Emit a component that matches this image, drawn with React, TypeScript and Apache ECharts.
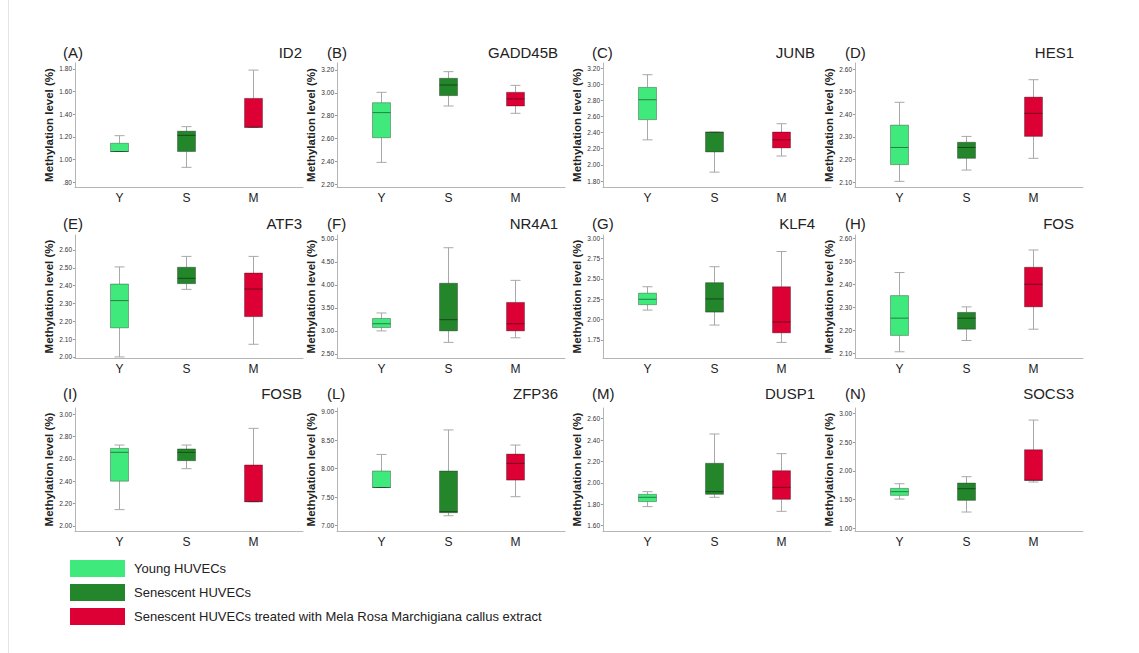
import React, { useEffect, useRef } from 'react';
import * as echarts from 'echarts';

const groups = ['Y', 'S', 'M'];
const groupNames = [
  'Young HUVECs',
  'Senescent HUVECs',
  'Senescent HUVECs treated with Mela Rosa Marchigiana callus extract',
];
const groupColors = ['#40e97b', '#23862b', '#dc0034'];
const panelLetters = ['(A)', '(B)', '(C)', '(D)', '(E)', '(F)', '(G)', '(H)', '(I)', '(L)', '(M)', '(N)'];
const genes = ['ID2', 'GADD45B', 'JUNB', 'HES1', 'ATF3', 'NR4A1', 'KLF4', 'FOS', 'FOSB', 'ZFP36', 'DUSP1', 'SOCS3'];

// [min, Q1, median, Q3, max] per gene
const youngStats = [
  [1.07, 1.07, 1.07, 1.143, 1.21],
  [2.39, 2.606, 2.826, 2.913, 3.004],
  [2.31, 2.56, 2.807, 2.96, 3.117],
  [2.103, 2.177, 2.253, 2.352, 2.453],
  [2.0, 2.163, 2.316, 2.409, 2.505],
  [3.0, 3.074, 3.156, 3.27, 3.39],
  [2.117, 2.183, 2.25, 2.325, 2.404],
  [2.107, 2.178, 2.253, 2.351, 2.451],
  [2.146, 2.4, 2.658, 2.693, 2.723],
  [7.67, 7.67, 7.67, 7.96, 8.25],
  [1.778, 1.825, 1.865, 1.893, 1.918],
  [1.507, 1.571, 1.636, 1.694, 1.775],
];
const senescentStats = [
  [0.93, 1.07, 1.213, 1.25, 1.29],
  [2.884, 2.975, 3.068, 3.127, 3.185],
  [1.91, 2.16, 2.405, 2.405, 2.405],
  [2.153, 2.205, 2.253, 2.276, 2.302],
  [2.379, 2.411, 2.441, 2.503, 2.564],
  [2.75, 3.0, 3.244, 4.037, 4.81],
  [1.933, 2.092, 2.254, 2.454, 2.65],
  [2.156, 2.205, 2.253, 2.278, 2.302],
  [2.512, 2.583, 2.658, 2.688, 2.723],
  [7.175, 7.228, 7.246, 7.96, 8.68],
  [1.865, 1.893, 1.918, 2.183, 2.457],
  [1.28, 1.484, 1.688, 1.787, 1.898],
];
const melaStats = [
  [1.284, 1.284, 1.284, 1.54, 1.79],
  [2.82, 2.884, 2.946, 3.004, 3.065],
  [2.11, 2.21, 2.31, 2.407, 2.51],
  [2.205, 2.302, 2.404, 2.476, 2.553],
  [2.071, 2.226, 2.381, 2.471, 2.564],
  [2.85, 3.0, 3.156, 3.62, 4.1],
  [1.72, 1.837, 1.971, 2.404, 2.837],
  [2.205, 2.302, 2.4, 2.474, 2.549],
  [2.217, 2.217, 2.217, 2.545, 2.872],
  [7.509, 7.8, 8.094, 8.257, 8.415],
  [1.734, 1.846, 1.958, 2.114, 2.273],
  [1.805, 1.834, 1.834, 2.37, 2.889],
];
const groupStats = [youngStats, senescentStats, melaStats];

const yMin = [0.756, 2.174, 1.726, 2.078, 1.994, 2.41, 1.528, 2.08, 1.955, 6.907, 1.55, 0.948];
const yMax = [1.853, 3.261, 3.262, 2.627, 2.684, 5.087, 3.04, 2.614, 3.054, 9.065, 2.7, 3.1];
const yTicks = [
  [0.8, 1.0, 1.2, 1.4, 1.6, 1.8],
  [2.2, 2.4, 2.6, 2.8, 3.0, 3.2],
  [1.8, 2.0, 2.2, 2.4, 2.6, 2.8, 3.0, 3.2],
  [2.1, 2.2, 2.3, 2.4, 2.5, 2.6],
  [2.0, 2.1, 2.2, 2.3, 2.4, 2.5, 2.6],
  [2.5, 3.0, 3.5, 4.0, 4.5, 5.0],
  [1.75, 2.0, 2.25, 2.5, 2.75, 3.0],
  [2.1, 2.2, 2.3, 2.4, 2.5, 2.6],
  [2.0, 2.2, 2.4, 2.6, 2.8, 3.0],
  [7.0, 7.5, 8.0, 8.5, 9.0],
  [1.6, 1.8, 2.0, 2.2, 2.4, 2.6],
  [1.0, 1.5, 2.0, 2.5, 3.0],
];

const FONT = '"Liberation Sans", Arial, Helvetica, sans-serif';
const colLeft = [75, 337, 603, 855];
const rowTop = [63, 235, 408];
const rowHeight = [124, 123, 123];
const gridWidth = 228;
const letterX = [63, 327, 592, 845];
const geneRightX = [302, 558, 815, 1074];
const titleY = [52, 223, 393];

const renderBox = (params: any, api: any) => {
  const x = api.value(0);
  const vals = [1, 2, 3, 4, 5].map((i) => api.value(i));
  const p = vals.map((v) => api.coord([x, v]));
  const cx = Math.round(p[0][0]) + 0.5;
  const halfW = 9;
  const capW = 5;
  const color = api.visual('color');
  const whisker = { stroke: '#a8a8a8', lineWidth: 1 };
  return {
    type: 'group',
    children: [
      { type: 'line', shape: { x1: cx, y1: p[4][1], x2: cx, y2: p[3][1] }, style: whisker },
      { type: 'line', shape: { x1: cx, y1: p[1][1], x2: cx, y2: p[0][1] }, style: whisker },
      { type: 'line', shape: { x1: cx - capW, y1: p[4][1], x2: cx + capW, y2: p[4][1] }, style: whisker },
      { type: 'line', shape: { x1: cx - capW, y1: p[0][1], x2: cx + capW, y2: p[0][1] }, style: whisker },
      {
        type: 'rect',
        shape: { x: cx - halfW, y: p[3][1], width: halfW * 2, height: p[1][1] - p[3][1] },
        style: { fill: color, stroke: 'rgba(0,0,0,0.3)', lineWidth: 1 },
      },
      {
        type: 'line',
        shape: { x1: cx - halfW, y1: p[2][1], x2: cx + halfW, y2: p[2][1] },
        style: { stroke: 'rgba(0,0,0,0.45)', lineWidth: 1 },
      },
    ],
  };
};

const fmt = (v: number) => {
  const s = v.toFixed(2);
  return s.startsWith('0') ? s.slice(1) : s;
};

export default function App() {
  const ref = useRef<HTMLDivElement>(null);
  useEffect(() => {
    if (!ref.current) return;
    const chart = echarts.init(ref.current, undefined, { renderer: 'svg' });
    const grids: any[] = [];
    const xAxes: any[] = [];
    const yAxes: any[] = [];
    const series: any[] = [];
    const graphics: any[] = [
      { type: 'line', shape: { x1: 8.5, y1: 0, x2: 8.5, y2: 653 }, style: { stroke: '#e4e4e4', lineWidth: 1 } },
    ];
    genes.forEach((gene, i) => {
      const r = Math.floor(i / 4);
      const c = i % 4;
      grids.push({ left: colLeft[c], top: rowTop[r], width: gridWidth, height: rowHeight[r] });
      xAxes.push({
        gridIndex: i,
        type: 'value',
        min: -0.664,
        max: 2.739,
        axisLine: { show: true, onZero: false, lineStyle: { color: '#b5b5b5', width: 1 } },
        axisTick: { show: false },
        splitLine: { show: false },
        axisLabel: {
          customValues: [0, 1, 2],
          formatter: (v: number) => groups[Math.round(v)],
          fontSize: 12,
          color: '#222',
          margin: 5,
          fontFamily: FONT,
        },
      });
      yAxes.push({
        gridIndex: i,
        type: 'value',
        min: yMin[i],
        max: yMax[i],
        axisLine: { show: true, onZero: false, lineStyle: { color: '#b5b5b5', width: 1 } },
        axisTick: { show: true, length: 2, customValues: yTicks[i], lineStyle: { color: '#999' } },
        splitLine: { show: false },
        axisLabel: {
          customValues: yTicks[i],
          formatter: fmt,
          fontSize: 6.5,
          color: '#333',
          margin: 3,
          fontFamily: FONT,
        },
        name: 'Methylation level (%)',
        nameLocation: 'middle',
        nameGap: 16,
        nameTextStyle: { fontWeight: 'bold', fontSize: 11.5, color: '#222', fontFamily: FONT },
      });
      groups.forEach((g, k) => {
        series.push({
          type: 'custom',
          name: groupNames[k],
          xAxisIndex: i,
          yAxisIndex: i,
          itemStyle: { color: groupColors[k] },
          encode: { x: 0, y: [1, 2, 3, 4, 5] },
          data: [[k, ...groupStats[k][i]]],
          renderItem: renderBox,
          clip: false,
        });
      });
      graphics.push({
        type: 'text',
        x: letterX[c],
        y: titleY[r],
        style: { text: panelLetters[i], fontSize: 15, fill: '#222', font: `15px ${FONT}`, textAlign: 'left', textVerticalAlign: 'middle' },
      });
      graphics.push({
        type: 'text',
        x: geneRightX[c],
        y: titleY[r],
        style: { text: gene, fontSize: 15, fill: '#222', font: `15px ${FONT}`, textAlign: 'right', textVerticalAlign: 'middle' },
      });
    });
    chart.setOption({
      animation: false,
      backgroundColor: '#ffffff',
      textStyle: { fontFamily: FONT },
      grid: grids,
      xAxis: xAxes,
      yAxis: yAxes,
      series,
      graphic: graphics,
      legend: {
        data: groupNames,
        orient: 'vertical',
        left: 70,
        top: 560,
        padding: 0,
        itemWidth: 55,
        itemHeight: 17,
        itemGap: 7,
        icon: 'rect',
        selectedMode: false,
        itemStyle: { borderWidth: 0 },
        textStyle: { fontSize: 13, color: '#222', fontFamily: FONT, padding: [0, 0, 0, 4] },
      },
    });
    return () => chart.dispose();
  }, []);
  return (
    <div
      ref={ref}
      style={{ position: 'absolute', left: 0, top: 0, width: 1139, height: 653, background: '#fff' }}
    />
  );
}
